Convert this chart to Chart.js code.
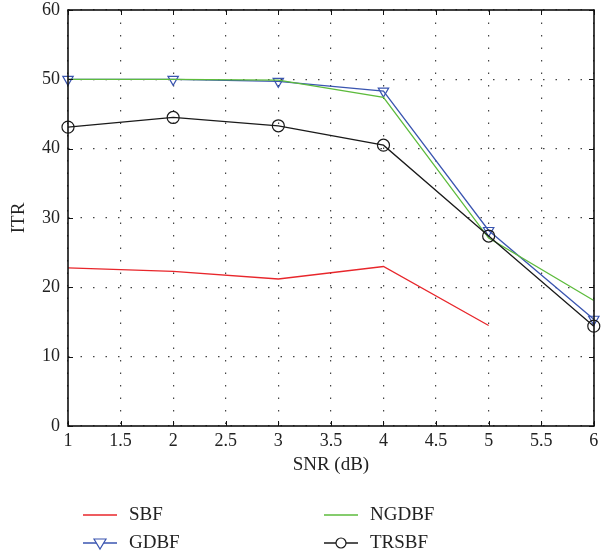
<!DOCTYPE html>
<html><head><meta charset="utf-8">
<script src="https://cdn.jsdelivr.net/npm/chart.js@4/dist/chart.umd.min.js"></script>
<style>html,body{margin:0;padding:0;background:#fff}#wrap{width:601px;height:560px}</style>
</head><body><div id="wrap"><canvas id="c" width="601" height="560"></canvas></div>
<script>
const snr = [1, 2, 3, 4, 5, 6];
const sbf = [22.8, 22.3, 21.2, 23.0, 14.5, null];
const gdbf = [50.0, 50.0, 49.7, 48.3, 28.2, 15.4];
const ngdbf = [50.0, 50.0, 49.9, 47.4, 27.1, 18.1];
const trsbf = [43.1, 44.5, 43.3, 40.5, 27.4, 14.4];
const xTicks = [1, 1.5, 2, 2.5, 3, 3.5, 4, 4.5, 5, 5.5, 6];
const yTicks = [0, 10, 20, 30, 40, 50, 60];

const FONT = '"Liberation Serif", "DejaVu Serif", serif';
const toPts = arr => snr.map((x, i) => ({x: x, y: arr[i]})).filter(p => p.y !== null);

const datasets = [
  {label:'SBF', data:toPts(sbf), borderColor:'#e8262b', pointRadius:0, order:3},
  {label:'GDBF', data:toPts(gdbf), borderColor:'#3a55b0', pointStyle:'triangle', rotation:180, pointRadius:6, pointBorderColor:'#3a55b0', pointBackgroundColor:'rgba(0,0,0,0)', pointBorderWidth:1.2, order:2},
  {label:'NGDBF', data:toPts(ngdbf), borderColor:'#5dbb3c', pointRadius:0, order:1},
  {label:'TRSBF', data:toPts(trsbf), borderColor:'#1a1a1a', pointStyle:'circle', pointRadius:6, pointBorderColor:'#1a1a1a', pointBackgroundColor:'rgba(0,0,0,0)', pointBorderWidth:1.2, order:0}
];
datasets.forEach(d => { d.borderWidth = 1.3; d.tension = 0; d.fill = false; d.spanGaps = false; d.clip = false; });

const frame = {
  id: 'frame',
  afterDatasetsDraw(chart) {
    const {ctx, chartArea: a, scales} = chart;
    const l = Math.round(a.left), r = Math.round(a.right);
    const t = Math.round(a.top), b = Math.round(a.bottom);
    ctx.save();
    ctx.strokeStyle = '#111';
    ctx.lineWidth = 1.6;
    ctx.strokeRect(l, t, r - l, b - t);
    ctx.lineWidth = 1;
    const L = 5;
    xTicks.forEach(v => {
      const px = Math.round(scales.x.getPixelForValue(v)) + 0.5;
      ctx.beginPath(); ctx.moveTo(px, b); ctx.lineTo(px, b - L);
      ctx.moveTo(px, t); ctx.lineTo(px, t + L); ctx.stroke();
    });
    yTicks.forEach(v => {
      const py = Math.round(scales.y.getPixelForValue(v)) + 0.5;
      ctx.beginPath(); ctx.moveTo(l, py); ctx.lineTo(l + L, py);
      ctx.moveTo(r, py); ctx.lineTo(r - L, py); ctx.stroke();
    });
    ctx.restore();
  },
  afterDraw(chart) {
    const {ctx} = chart;
    const ds = chart.data.datasets;
    const slots = [
      {i:0, x:83, y:515}, {i:2, x:324, y:515},
      {i:1, x:83, y:543}, {i:3, x:324, y:543}
    ];
    ctx.save();
    ctx.font = '19px ' + FONT;
    ctx.textBaseline = 'middle';
    slots.forEach(s => {
      const d = ds[s.i];
      ctx.strokeStyle = d.borderColor;
      ctx.lineWidth = 1.3;
      ctx.beginPath(); ctx.moveTo(s.x, s.y); ctx.lineTo(s.x + 34, s.y); ctx.stroke();
      if (d.pointRadius > 0) {
        const cx = s.x + 17;
        ctx.fillStyle = '#fff';
        ctx.lineWidth = 1.2;
        ctx.beginPath();
        if (d.pointStyle === 'circle') {
          ctx.arc(cx, s.y, 5, 0, Math.PI * 2);
        } else {
          ctx.moveTo(cx - 6, s.y - 4); ctx.lineTo(cx + 6, s.y - 4); ctx.lineTo(cx, s.y + 6); ctx.closePath();
        }
        ctx.fill(); ctx.stroke();
      }
      ctx.fillStyle = '#222';
      ctx.fillText(d.label, s.x + 46, s.y);
    });
    ctx.restore();
  }
};

new Chart(document.getElementById('c'), {
  type: 'line',
  data: {datasets: datasets},
  plugins: [frame],
  options: {
    responsive: false,
    animation: false,
    layout: {padding: {top: 10, right: 3, bottom: 78, left: 0}},
    plugins: {legend: {display: false}, tooltip: {enabled: false}},
    scales: {
      x: {
        type: 'linear', min: 1, max: 6,
        afterBuildTicks: s => { s.ticks = xTicks.map(v => ({value: v})); },
        afterFit: s => { s.height = 56; s.paddingLeft = 0; s.paddingRight = 0; },
        ticks: {color: '#222', font: {family: FONT, size: 18}, padding: 4, maxRotation: 0, autoSkip: false, callback: v => String(v)},
        grid: {drawTicks: false, color: '#444', lineWidth: 1.2},
        border: {display: false, dash: [1.5, 11]},
        title: {display: true, text: 'SNR (dB)', color: '#222', font: {family: FONT, size: 19}, padding: {top: 6, bottom: 6}}
      },
      y: {
        type: 'linear', min: 0, max: 60,
        afterBuildTicks: s => { s.ticks = yTicks.map(v => ({value: v})); },
        afterFit: s => { s.width = 68; s.paddingTop = 0; s.paddingBottom = 0; },
        ticks: {color: '#222', font: {family: FONT, size: 18}, padding: 8, callback: v => String(v)},
        grid: {drawTicks: false, color: '#444', lineWidth: 1.2},
        border: {display: false, dash: [1.5, 11]},
        title: {display: true, text: 'ITR', color: '#222', font: {family: FONT, size: 19}, padding: {top: 8, bottom: 6}}
      }
    }
  }
});
</script></body></html>
